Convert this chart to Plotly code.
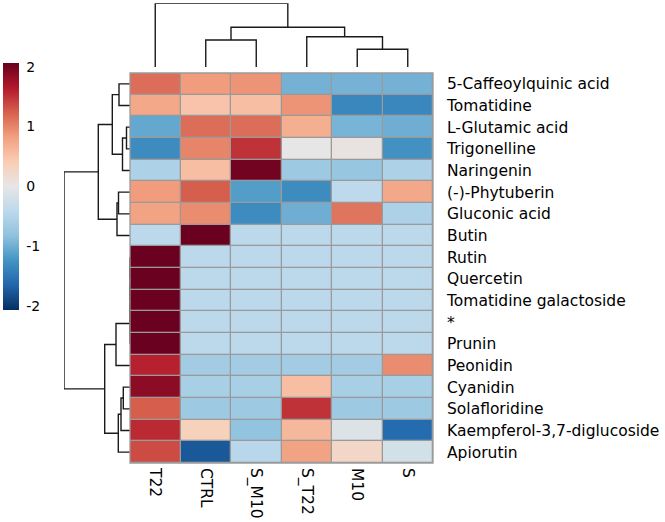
import plotly.graph_objects as go

W, H = 665, 522

cols = ["T22", "CTRL", "S_M10", "S_T22", "M10", "S"]
rows = ["5-Caffeoylquinic acid", "Tomatidine", "L-Glutamic acid", "Trigonelline",
        "Naringenin", "(-)-Phytuberin", "Gluconic acid", "Butin", "Rutin", "Quercetin",
        "Tomatidine galactoside", "*", "Prunin", "Peonidin", "Cyanidin", "Solafloridine",
        "Kaempferol-3,7-diglucoside", "Apiorutin"]

# z-scores per row, columns in order T22, CTRL, S_M10, S_T22, M10, S
z_caffeoyl = [1.15, 0.85, 0.90, -0.97, -0.96, -0.97]
z_tomatidine = [0.75, 0.50, 0.55, 0.90, -1.35, -1.35]
z_glutamic = [-1.05, 1.15, 1.15, 0.70, -0.95, -1.00]
z_trigonelline = [-1.30, 1.00, 1.50, 0.00, 0.05, -1.25]
z_naringenin = [-0.55, 0.55, 2.00, -0.70, -0.75, -0.55]
z_phytuberin = [0.85, 1.25, -1.15, -1.30, -0.40, 0.75]
z_gluconic = [0.80, 0.95, -1.30, -1.00, 1.10, -0.55]
z_butin = [-0.408, 2.04, -0.408, -0.408, -0.408, -0.408]
z_rutin = [2.04, -0.408, -0.408, -0.408, -0.408, -0.408]
z_quercetin = [2.04, -0.408, -0.408, -0.408, -0.408, -0.408]
z_tomgal = [2.04, -0.408, -0.408, -0.408, -0.408, -0.408]
z_star = [2.04, -0.408, -0.408, -0.408, -0.408, -0.408]
z_prunin = [2.04, -0.408, -0.408, -0.408, -0.408, -0.408]
z_peonidin = [1.60, -0.64, -0.64, -0.64, -0.64, 0.95]
z_cyanidin = [1.85, -0.60, -0.60, 0.55, -0.60, -0.60]
z_solafloridine = [1.25, -0.69, -0.69, 1.50, -0.69, -0.69]
z_kaempferol = [1.55, 0.35, -0.80, 0.60, -0.10, -1.60]
z_apiorutin = [1.35, -1.75, -0.45, 0.80, 0.25, -0.20]

Z = [z_caffeoyl, z_tomatidine, z_glutamic, z_trigonelline, z_naringenin, z_phytuberin,
     z_gluconic, z_butin, z_rutin, z_quercetin, z_tomgal, z_star, z_prunin, z_peonidin,
     z_cyanidin, z_solafloridine, z_kaempferol, z_apiorutin]

# linkage (child a, child b, merge height); leaves indexed in display order
row_links = [
    (0, 1, 11.0), (2, 3, 3.5), (19, 4, 7.5), (18, 20, 17.7),
    (5, 6, 11.5), (22, 7, 13.0), (21, 23, 31.7),
    (8, 9, 0.0), (25, 10, 0.0), (26, 11, 0.0), (27, 12, 0.0), (28, 13, 14.0),
    (14, 15, 6.7), (30, 16, 9.0), (31, 17, 11.7), (29, 32, 25.3), (24, 33, 66.0),
]
col_links = [
    (4, 5, 17.7), (3, 6, 30.3), (1, 2, 27.0), (8, 7, 39.7), (0, 9, 63.7),
]

rdbu = ["#053061", "#2166ac", "#4393c3", "#8fc2de", "#bcd9eb", "#e6e6e6",
        "#f9cdb5", "#f2a080", "#d6604d", "#b2182b", "#67001f"]
cscale = [[i / (len(rdbu) - 1), c] for i, c in enumerate(rdbu)]


def dendro(links, n):
    pos = {i: float(i) for i in range(n)}
    hgt = {i: 0.0 for i in range(n)}
    P, Hh = [], []
    for k, (a, b, h) in enumerate(links):
        P += [pos[a], pos[a], pos[b], pos[b], None]
        Hh += [hgt[a], h, h, hgt[b], None]
        pos[n + k] = (pos[a] + pos[b]) / 2
        hgt[n + k] = h
    return P, Hh


def px_x(p):
    return p / W


def px_y(p):
    return 1 - p / H


hx0, hx1, hy0, hy1 = 130, 433, 73, 463
font = dict(family="DejaVu Sans", size=15.5, color="black")

fig = go.Figure()
nr, nc = len(rows), len(cols)
fig.add_trace(go.Heatmap(z=[[0] * nc for _ in range(nr)], x=list(range(nc)), y=list(range(nr)),
                         colorscale=[[0, "#9a9a9a"], [1, "#9a9a9a"]], showscale=False,
                         hoverinfo="skip"))
fig.add_trace(go.Heatmap(
    z=Z, x=list(range(nc)), y=list(range(nr)), colorscale=cscale, zmin=-2.06, zmax=2.06,
    xgap=1.3, ygap=1.3,
    colorbar=dict(x=px_x(3), xanchor="left", xpad=0, ypad=0, y=px_y(186.5), yanchor="middle",
                  len=247 / H, lenmode="fraction", thickness=16, outlinewidth=0,
                  tickvals=[-2, -1, 0, 1, 2], ticktext=["-2", "-1", "0", "1", "2"],
                  ticks="outside", ticklen=5, tickcolor="rgba(0,0,0,0)",
                  tickfont=dict(family="DejaVu Sans", size=14, color="black")),
))

cx, cy = dendro(col_links, nc)
fig.add_trace(go.Scatter(x=cx, y=cy, mode="lines", line=dict(color="#1a1a1a", width=1.4),
                         xaxis="x2", yaxis="y2", hoverinfo="skip", showlegend=False))
rp, rh = dendro(row_links, nr)
fig.add_trace(go.Scatter(x=rh, y=rp, mode="lines", line=dict(color="#1a1a1a", width=1.4),
                         xaxis="x3", yaxis="y3", hoverinfo="skip", showlegend=False))

fig.update_layout(
    width=W, height=H, margin=dict(l=0, r=0, t=0, b=0),
    paper_bgcolor="white", plot_bgcolor="white", showlegend=False,
    xaxis=dict(domain=[px_x(hx0), px_x(hx1)], range=[-0.5, nc - 0.5], tickvals=list(range(nc)),
               ticktext=cols, tickangle=90, ticks="", showgrid=False, zeroline=False,
               tickfont=font, ticklabelstandoff=4, anchor="y"),
    yaxis=dict(domain=[px_y(hy1), px_y(hy0)], range=[nr - 0.5, -0.5], tickvals=list(range(nr)),
               ticktext=rows, side="right", ticks="", showgrid=False, zeroline=False,
               tickfont=font, ticklabelstandoff=13, anchor="x"),
    xaxis2=dict(domain=[px_x(hx0), px_x(hx1)], range=[-0.5, nc - 0.5], visible=False, anchor="y2"),
    yaxis2=dict(domain=[px_y(67), px_y(3.3)], range=[0, 63.7], visible=False, anchor="x2"),
    xaxis3=dict(domain=[px_x(64), px_x(hx0)], range=[66, 0], visible=False, anchor="y3"),
    yaxis3=dict(domain=[px_y(hy1), px_y(hy0)], range=[nr - 0.5, -0.5], visible=False, anchor="x3"),
    shapes=[dict(type="rect", xref="x domain", yref="y domain", x0=0, x1=1, y0=0, y1=1,
                 line=dict(color="#9a9a9a", width=1.3), layer="above")],
)

fig.write_html("out.html")
